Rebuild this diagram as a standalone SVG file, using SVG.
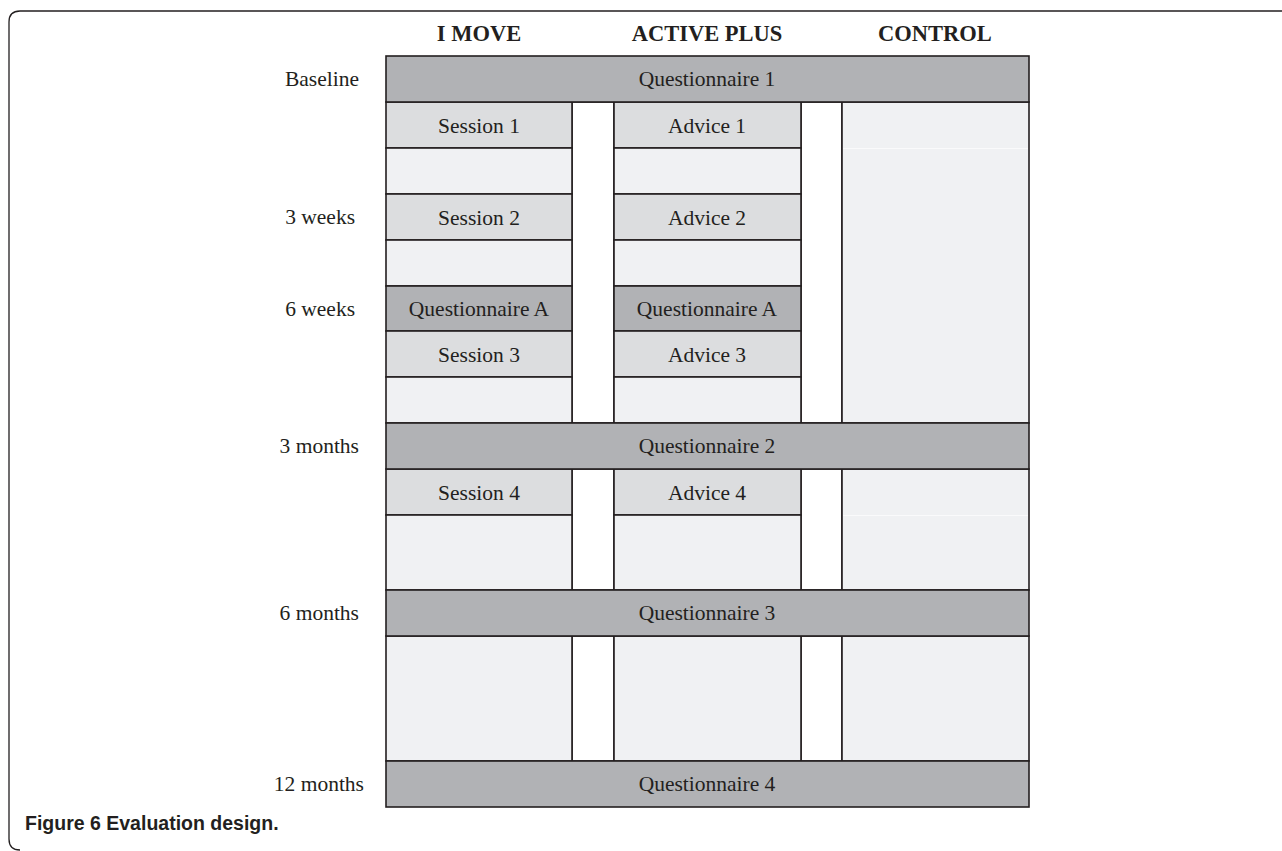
<svg xmlns="http://www.w3.org/2000/svg" width="1282" height="851" viewBox="0 0 1282 851">
<style>
.t{font-family:"Liberation Serif","Times New Roman",serif;font-size:21.5px;fill:#231f20;text-anchor:middle}
.h{font-family:"Liberation Serif","Times New Roman",serif;font-size:22.5px;font-weight:bold;fill:#231f20;text-anchor:middle}
.l{font-family:"Liberation Serif","Times New Roman",serif;font-size:21.5px;fill:#231f20;text-anchor:end}
.cap{font-family:"Liberation Sans",Arial,sans-serif;font-size:19.5px;font-weight:bold;fill:#231f20}
.q{fill:#b1b2b5;stroke:#231f20;stroke-width:1.6}
.s{fill:#dcdddf;stroke:#231f20;stroke-width:1.6}
.b{fill:#f0f1f3;stroke:#231f20;stroke-width:1.6}
.g{fill:#ffffff;stroke:#231f20;stroke-width:1.6}
.faint{stroke:#fafafb;stroke-width:1}
</style>
<path d="M1282 11 H20 Q9 11 9 22 V839 Q9 850 20 850" fill="none" stroke="#231f20" stroke-width="1.3"/>
<g id="headers">
<text class="h" x="479" y="41">I MOVE</text>
<text class="h" x="707" y="41">ACTIVE PLUS</text>
<text class="h" x="935" y="41">CONTROL</text>
</g>
<g id="timelabels">
<text class="l" x="359" y="86">Baseline</text>
<text class="l" x="355" y="224">3 weeks</text>
<text class="l" x="355" y="316">6 weeks</text>
<text class="l" x="359" y="453">3 months</text>
<text class="l" x="359" y="620">6 months</text>
<text class="l" x="364" y="791">12 months</text>
</g>
<g id="gaps">
<rect class="g" x="572" y="102" width="42" height="321"/>
<rect class="g" x="801" y="102" width="41" height="321"/>
<rect class="g" x="572" y="469" width="42" height="121"/>
<rect class="g" x="801" y="469" width="41" height="121"/>
<rect class="g" x="572" y="636" width="42" height="125"/>
<rect class="g" x="801" y="636" width="41" height="125"/>
</g>
<g id="imove">
<g id="session1"><rect class="s" x="386" y="102" width="186" height="46"/><text class="t" x="479" y="133">Session 1</text></g>
<rect class="b" x="386" y="148" width="186" height="46"/>
<g id="session2"><rect class="s" x="386" y="194" width="186" height="46"/><text class="t" x="479" y="225">Session 2</text></g>
<rect class="b" x="386" y="240" width="186" height="46"/>
<g id="qa1"><rect class="q" x="386" y="286" width="186" height="45"/><text class="t" x="479" y="316">Questionnaire A</text></g>
<g id="session3"><rect class="s" x="386" y="331" width="186" height="46"/><text class="t" x="479" y="362">Session 3</text></g>
<rect class="b" x="386" y="377" width="186" height="46"/>
<g id="session4"><rect class="s" x="386" y="469" width="186" height="46"/><text class="t" x="479" y="500">Session 4</text></g>
<rect class="b" x="386" y="515" width="186" height="75"/>
<rect class="b" x="386" y="636" width="186" height="125"/>
</g>
<g id="activeplus">
<g id="advice1"><rect class="s" x="614" y="102" width="187" height="46"/><text class="t" x="707" y="133">Advice 1</text></g>
<rect class="b" x="614" y="148" width="187" height="46"/>
<g id="advice2"><rect class="s" x="614" y="194" width="187" height="46"/><text class="t" x="707" y="225">Advice 2</text></g>
<rect class="b" x="614" y="240" width="187" height="46"/>
<g id="qa2"><rect class="q" x="614" y="286" width="187" height="45"/><text class="t" x="707" y="316">Questionnaire A</text></g>
<g id="advice3"><rect class="s" x="614" y="331" width="187" height="46"/><text class="t" x="707" y="362">Advice 3</text></g>
<rect class="b" x="614" y="377" width="187" height="46"/>
<g id="advice4"><rect class="s" x="614" y="469" width="187" height="46"/><text class="t" x="707" y="500">Advice 4</text></g>
<rect class="b" x="614" y="515" width="187" height="75"/>
<rect class="b" x="614" y="636" width="187" height="125"/>
</g>
<g id="control">
<rect class="b" x="842" y="102" width="187" height="321"/>
<line class="faint" x1="843" y1="148.5" x2="1028" y2="148.5"/>
<rect class="b" x="842" y="469" width="187" height="121"/>
<line class="faint" x1="843" y1="515.5" x2="1028" y2="515.5"/>
<rect class="b" x="842" y="636" width="187" height="125"/>
</g>
<g id="questionnaires">
<g id="q1"><rect class="q" x="386" y="56" width="643" height="46"/><text class="t" x="707" y="86">Questionnaire 1</text></g>
<g id="q2"><rect class="q" x="386" y="423" width="643" height="46"/><text class="t" x="707" y="453">Questionnaire 2</text></g>
<g id="q3"><rect class="q" x="386" y="590" width="643" height="46"/><text class="t" x="707" y="620">Questionnaire 3</text></g>
<g id="q4"><rect class="q" x="386" y="761" width="643" height="46"/><text class="t" x="707" y="791">Questionnaire 4</text></g>
</g>
<text class="cap" x="25" y="830">Figure 6 Evaluation design.</text>
</svg>
